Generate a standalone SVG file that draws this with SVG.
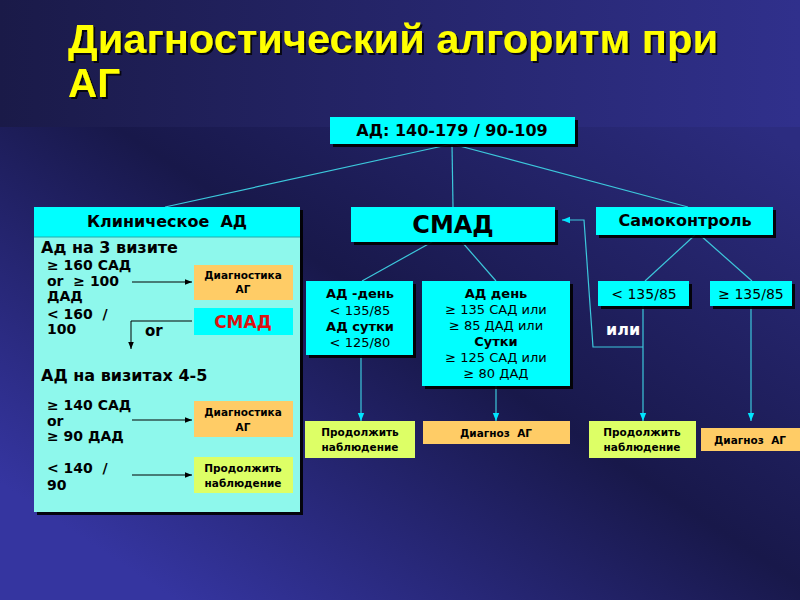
<svg xmlns="http://www.w3.org/2000/svg" width="800" height="600" viewBox="0 0 800 600">
<defs>
<linearGradient id="bgTop" x1="0" y1="0" x2="1" y2="0">
<stop offset="0" stop-color="#1a1a48"/>
<stop offset="1" stop-color="#30308c"/>
</linearGradient>
<linearGradient id="bgMain" gradientUnits="userSpaceOnUse" x1="650" y1="50" x2="250" y2="650">
<stop offset="0" stop-color="#2c2c80"/>
<stop offset="0.5" stop-color="#18184a"/>
<stop offset="1" stop-color="#3535a0"/>
</linearGradient>
<filter id="sh" x="-10%" y="-10%" width="130%" height="140%">
<feDropShadow dx="3" dy="3" stdDeviation="0.6" flood-color="#000" flood-opacity="0.9"/>
</filter>
<filter id="tsh" x="-5%" y="-10%" width="110%" height="130%">
<feDropShadow dx="2" dy="2" stdDeviation="0.5" flood-color="#000" flood-opacity="0.8"/>
</filter>
<marker id="ab" viewBox="0 0 10 10" refX="10" refY="5" markerWidth="7" markerHeight="7" markerUnits="userSpaceOnUse" orient="auto">
<path d="M0,1 L10,5 L0,9 z" fill="#000"/>
</marker>
<marker id="ac" viewBox="0 0 10 10" refX="10" refY="5" markerWidth="8" markerHeight="8" markerUnits="userSpaceOnUse" orient="auto">
<path d="M0,1 L10,5 L0,9 z" fill="#00e5ff"/>
</marker>
<style>
.cy{fill:#00ffff}
.lc{fill:#8ef8ec}
.or{fill:#ffcc66}
.yg{fill:#ddff66}
.t{font-family:"DejaVu Sans","Liberation Sans",sans-serif;fill:#000;white-space:pre}
.b{font-weight:bold}
.m{text-anchor:middle}
.s11{font-size:10.5px}
.s13{font-size:13px}
.s14{font-size:14px}
.s15{font-size:15px}
.s16{font-size:16px}
.cl{stroke:#3cc8dc;stroke-width:1.2;fill:none}
.bl{stroke:#000;stroke-width:1;fill:none}
</style>
</defs>
<rect x="0" y="0" width="800" height="600" fill="url(#bgMain)"/>
<rect x="0" y="0" width="800" height="127" fill="url(#bgTop)"/>

<g id="title" filter="url(#tsh)">
<text x="68" y="53" font-family="'Liberation Sans',Arial,sans-serif" font-weight="bold" font-size="41" fill="#ffff00" textLength="650" lengthAdjust="spacingAndGlyphs">Диагностический алгоритм при</text>
<text x="68" y="97" font-family="'Liberation Sans',Arial,sans-serif" font-weight="bold" font-size="41" fill="#ffff00" textLength="52" lengthAdjust="spacingAndGlyphs">АГ</text>
</g>

<g id="connectors">
<path class="cl" d="M452,144 L165,207"/>
<path class="cl" d="M452,144 L453,207"/>
<path class="cl" d="M452,144 L688,207"/>
<path class="cl" d="M432,242 L362,281"/>
<path class="cl" d="M462,242 L496,281"/>
<path class="cl" d="M695,235 L645,281"/>
<path class="cl" d="M700,235 L752,281"/>
<path class="cl" d="M361,355 L361,421" marker-end="url(#ac)"/>
<path class="cl" d="M496,386 L496,421" marker-end="url(#ac)"/>
<path class="cl" d="M643,306 L643,421" marker-end="url(#ac)"/>
<path class="cl" d="M751,306 L751,421" marker-end="url(#ac)"/>
<path class="cl" d="M643,347 L593,347 L584,220 L562,220" marker-end="url(#ac)"/>
</g>

<g id="top">
<rect class="cy" x="330" y="117" width="245" height="27" filter="url(#sh)"/>
<text class="t b s16 m" x="452" y="136">АД: 140-179 / 90-109</text>
</g>

<g id="clinical">
<rect class="lc" x="34" y="207" width="266" height="305" filter="url(#sh)"/>
<rect class="cy" x="34" y="207" width="266" height="30"/>
<line x1="34" y1="237" x2="300" y2="237" stroke="#2aa" stroke-width="1"/>
<text class="t b s16 m" x="167" y="227" xml:space="preserve">Клиническое  АД</text>
<text class="t b s16" x="41" y="253">Ад на 3 визите</text>
<text class="t b s14" x="47" y="270">≥ 160 САД</text>
<text class="t b s14" x="47" y="286" xml:space="preserve">or  ≥ 100</text>
<text class="t b s14" x="47" y="301">ДАД</text>
<text class="t b s14" x="47" y="319" xml:space="preserve">&lt; 160  /</text>
<text class="t b s14" x="47" y="334">100</text>
<text class="t b s15" x="145" y="336">or</text>
<text class="t b s16" x="41" y="381">АД на визитах 4-5</text>
<text class="t b s14" x="47" y="410">≥ 140 САД</text>
<text class="t b s14" x="47" y="426">or</text>
<text class="t b s14" x="47" y="441">≥ 90 ДАД</text>
<text class="t b s14" x="47" y="473" xml:space="preserve">&lt; 140  /</text>
<text class="t b s14" x="47" y="490">90</text>
<path class="bl" d="M132,282 L192,282" marker-end="url(#ab)"/>
<path class="bl" d="M192,321 L131,321 L131,349" marker-end="url(#ab)"/>
<path class="bl" d="M132,420 L192,420" marker-end="url(#ab)"/>
<path class="bl" d="M132,475 L192,475" marker-end="url(#ab)"/>
</g>

<g id="diag1">
<rect class="or" x="194" y="265" width="99" height="35"/>
<text class="t b s11 m" x="243" y="279">Диагностика</text>
<text class="t b s11 m" x="243" y="293">АГ</text>
</g>
<g id="smad-small">
<rect class="cy" x="194" y="308" width="99" height="27"/>
<text class="b m" x="243" y="328" font-family="'DejaVu Sans',sans-serif" font-size="17" fill="#dd1111">СМАД</text>
</g>
<g id="diag2">
<rect class="or" x="194" y="401" width="99" height="36"/>
<text class="t b s11 m" x="243" y="416">Диагностика</text>
<text class="t b s11 m" x="243" y="431">АГ</text>
</g>
<g id="cont-left">
<rect class="yg" x="194" y="457" width="99" height="36"/>
<text class="t b s11 m" x="243" y="472">Продолжить</text>
<text class="t b s11 m" x="243" y="487">наблюдение</text>
</g>

<g id="smad">
<rect class="cy" x="351" y="207" width="204" height="35" filter="url(#sh)"/>
<text class="t b m" x="453" y="233" font-size="24">СМАД</text>
</g>

<g id="selfcontrol">
<rect class="cy" x="596" y="207" width="177" height="28" filter="url(#sh)"/>
<text class="t b s16 m" x="685" y="226">Самоконтроль</text>
</g>

<g id="ad-day-low">
<rect class="cy" x="306" y="281" width="107" height="74" filter="url(#sh)"/>
<text class="t b s13 m" x="360" y="298">АД -день</text>
<text class="t s13 m" x="360" y="315">&lt; 135/85</text>
<text class="t b s13 m" x="360" y="331">АД сутки</text>
<text class="t s13 m" x="360" y="347">&lt; 125/80</text>
</g>

<g id="ad-day-high">
<rect class="cy" x="422" y="281" width="148" height="105" filter="url(#sh)"/>
<text class="t b s13 m" x="496" y="298">АД день</text>
<text class="t s13 m" x="496" y="314">≥ 135 САД или</text>
<text class="t s13 m" x="496" y="330">≥ 85 ДАД или</text>
<text class="t b s13 m" x="496" y="346">Сутки</text>
<text class="t s13 m" x="496" y="362">≥ 125 САД или</text>
<text class="t s13 m" x="496" y="378">≥ 80 ДАД</text>
</g>

<g id="self-low">
<rect class="cy" x="598" y="281" width="91" height="25" filter="url(#sh)"/>
<text class="t s14 m" x="644" y="299">&lt; 135/85</text>
</g>
<g id="self-high">
<rect class="cy" x="710" y="281" width="82" height="25" filter="url(#sh)"/>
<text class="t s14 m" x="751" y="299">≥ 135/85</text>
</g>

<g id="or-label">
<text class="b" x="606" y="335" font-family="'DejaVu Sans',sans-serif" font-size="16" fill="#ffffff">или</text>
</g>

<g id="cont1">
<rect class="yg" x="305" y="421" width="110" height="37"/>
<text class="t b s11 m" x="360" y="436">Продолжить</text>
<text class="t b s11 m" x="360" y="451">наблюдение</text>
</g>
<g id="diagnosis1">
<rect class="or" x="423" y="421" width="147" height="23"/>
<text class="t b s11 m" x="496" y="437" xml:space="preserve">Диагноз  АГ</text>
</g>
<g id="cont2">
<rect class="yg" x="589" y="421" width="107" height="37"/>
<text class="t b s11 m" x="642" y="436">Продолжить</text>
<text class="t b s11 m" x="642" y="451">наблюдение</text>
</g>
<g id="diagnosis2">
<rect class="or" x="701" y="428" width="99" height="23"/>
<text class="t b s11 m" x="750" y="444" xml:space="preserve">Диагноз  АГ</text>
</g>
</svg>
